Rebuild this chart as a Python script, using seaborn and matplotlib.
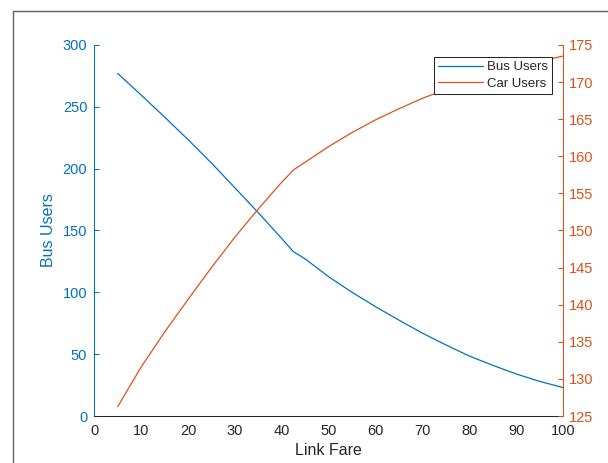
import pandas as pd
import numpy as np
import matplotlib.pyplot as plt
import seaborn as sns
from matplotlib.lines import Line2D

# data
link_fare = [5, 10, 15, 20, 25, 30, 35, 40, 42.5, 45, 50, 55, 60, 65, 70, 75, 80, 85, 90, 95, 100]
bus_users = [277, 259.5, 241.7, 223.5, 204.5, 184.5, 164.3, 143.5, 132.8, 127, 112.6, 100, 88.4,
             77.5, 67, 57.5, 48.5, 41, 34, 28, 23]
car_users = [126.25, 131.6, 136.3, 140.7, 145.0, 149.1, 152.9, 156.5, 158.15, 159.2, 161.3, 163.2,
             164.9, 166.4, 167.8, 169.0, 170.1, 171.1, 172.0, 172.8, 173.5]

x_ticks = list(range(0, 101, 10))
bus_ticks = list(range(0, 301, 50))
car_ticks = list(range(125, 176, 5))

df = pd.DataFrame({"fare": link_fare, "bus": bus_users, "car": car_users})

BLUE = "#0072BD"
ORANGE = "#D95319"
DARK = "#262626"

sns.set_style("white")
plt.rcParams["font.family"] = ["Liberation Sans", "DejaVu Sans"]

fig = plt.figure(figsize=(6.08, 4.63), dpi=100)
ax = fig.add_axes([0.155, 0.1015, 0.771, 0.8015])
ax2 = ax.twinx()

sns.lineplot(data=df, x="fare", y="bus", ax=ax, color=BLUE, lw=0.9, label="Bus Users", legend=False)
sns.lineplot(data=df, x="fare", y="car", ax=ax2, color=ORANGE, lw=0.9, label="Car Users", legend=False)

ax.set_xlim(0, 100)
ax.set_ylim(0, 300)
ax2.set_ylim(125, 175)
ax.set_xticks(x_ticks)
ax.set_yticks(bus_ticks)
ax2.set_yticks(car_ticks)

# spines, MATLAB-like yyaxis look
for a in (ax, ax2):
    a.spines["top"].set_visible(False)
    for s in a.spines.values():
        s.set_linewidth(0.75)
ax.spines["right"].set_visible(False)
ax.spines["left"].set_color(BLUE)
ax.spines["bottom"].set_color(DARK)
ax2.spines["left"].set_visible(False)
ax2.spines["bottom"].set_visible(False)
ax2.spines["right"].set_color(ORANGE)

ax.tick_params(axis="x", direction="in", length=3.5, width=0.75, colors=DARK, labelsize=10.5, pad=5.5)
ax.tick_params(axis="y", direction="in", length=3.5, width=0.75, colors=BLUE, labelsize=10.5, pad=5)
ax2.tick_params(axis="y", direction="in", length=3.5, width=0.75, colors=ORANGE, labelsize=10.5, pad=4)

ax.set_xlabel("Link Fare", fontsize=11.5, color=DARK, labelpad=4)
ax.set_ylabel("Bus Users", fontsize=11.5, color=BLUE, labelpad=5)
ax2.set_ylabel("Car Users", fontsize=11.5, color=ORANGE, labelpad=13)

handles = [Line2D([], [], color=BLUE, lw=0.9), Line2D([], [], color=ORANGE, lw=0.9)]
leg = ax2.legend(handles, ["Bus Users", "Car Users"], loc="upper right",
                 bbox_to_anchor=(0.977, 0.967), borderaxespad=0, fontsize=9.5,
                 fancybox=False, framealpha=1, edgecolor=DARK, handlelength=3.4,
                 handletextpad=0.3, labelspacing=0.3, borderpad=0.3)
leg.get_frame().set_linewidth(0.75)

# window border seen in the screenshot
fig.add_artist(Line2D([13 / 608, 13 / 608], [0, 1 - 11 / 463], color="#606060", lw=1,
                      transform=fig.transFigure))
fig.add_artist(Line2D([13 / 608, 1], [1 - 11 / 463, 1 - 11 / 463], color="#606060", lw=1,
                      transform=fig.transFigure))

fig.savefig("out.png", dpi=100)
